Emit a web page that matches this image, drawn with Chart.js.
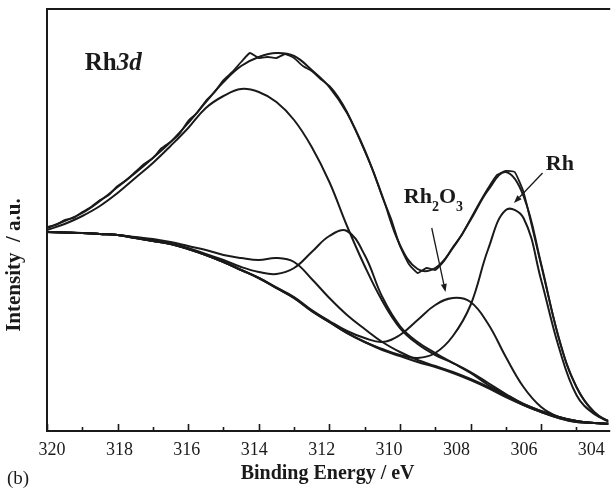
<!DOCTYPE html>
<html>
<head>
<meta charset="utf-8">
<script src="https://cdn.jsdelivr.net/npm/chart.js"></script>
<style>
  html, body { margin: 0; padding: 0; background: #fff; }
  canvas { display: block; }
</style>
</head>
<body>
<canvas id="xps" width="613" height="489"></canvas>
<script>
// Rh 3d XPS region: binding energy (eV) vs intensity (a.u.)
const energyGrid = [320, 319.5, 319, 318.5, 318, 317.5, 317, 316.5, 316, 315.5, 315, 314.5, 314, 313.5, 313, 312.5, 312, 311.5, 311, 310.5, 310, 309.5, 309, 308.5, 308, 307.5, 307, 306.5, 306, 305.5, 305, 304.5, 304];

const energyFine = [320, 319.75, 319.5, 319.25, 319, 318.75, 318.5, 318.25, 318, 317.75, 317.5, 317.25, 317, 316.75, 316.5, 316.25, 316, 315.75, 315.5, 315.25, 315, 314.75, 314.5, 314.25, 314, 313.75, 313.5, 313.25, 313, 312.75, 312.5, 312.25, 312, 311.75, 311.5, 311.25, 311, 310.75, 310.5, 310.25, 310, 309.75, 309.5, 309.25, 309, 308.75, 308.5, 308.25, 308, 307.75, 307.5, 307.25, 307, 306.75, 306.5, 306.25, 306, 305.75, 305.5, 305.25, 305, 304.75, 304.5, 304.25, 304];

// raw spectrum
const measured = [204, 206, 211, 213, 219, 224, 231, 236, 245, 251, 259, 267, 273, 283, 289, 297, 310, 318, 330, 339, 351, 359, 369, 378, 373, 374, 373, 377, 373, 365, 360, 352, 345, 334, 319, 300, 280, 259, 234, 212, 185, 167, 158, 163, 161, 170, 184, 196, 212, 228, 243, 256, 260, 259, 239, 203, 166, 128, 93, 64, 44, 29, 19, 12, 8];

// fitted envelope
const envelope = [203, 210, 218, 230, 244, 258, 273, 289, 308, 329, 349, 365, 374, 378, 375, 361, 344, 318, 281, 235, 186, 162, 163, 183, 211, 241, 259, 235, 167, 93, 44, 19, 8];

// Shirley background
const background = [199, 198.5, 198, 197, 196, 193, 190, 187, 182, 176, 169, 161, 153, 143, 133, 120, 109, 98, 89, 81, 75, 69, 64, 58, 51, 43, 34, 26, 19, 13, 9, 8, 7];

// fitted components (each drawn on top of the background)
const broadPeak = [201, 207, 215, 225, 238, 253, 268, 285, 303, 323, 335, 342, 339, 329, 311, 284, 249, 205, 165, 130, 103, 87, 76, 68, 59, 48, 37, 27, 20, 14, 10, 8, 7];
const rhMetal3d32 = [199, 198.5, 198, 197, 196, 193.5, 191, 187.5, 183, 177, 171, 164, 159, 157, 163, 179, 195, 200, 176, 134, 105, 89, 78, 68, 58, 46, 36, 27, 20, 14, 10, 8, 7];
const rhOxide3d32 = [199, 198.5, 198, 197, 196, 194, 192, 189, 185, 181, 176, 173, 171, 173, 169, 152, 133, 116, 102, 89, 79, 71, 65, 59, 52, 44, 35, 26, 19, 13, 9, 8, 7];
const rhOxide3d52 = [199, 198.5, 198, 197, 196, 193, 190, 187, 182, 176, 169, 161, 153, 143.5, 134, 121, 110, 100, 93, 89, 96, 111, 126, 133, 129, 107, 74, 44, 24, 14, 10, 8, 7];
const rhMetal3d52 = [199, 198.5, 198, 197, 196, 193, 190, 187, 182, 176, 169, 161, 153, 143, 133, 120, 109, 98, 89, 82, 76, 73, 78, 95, 126, 182, 221, 213, 151, 84, 36, 17, 9];

const tickLabels = [320, 318, 316, 314, 312, 310, 308, 306, 304];

const INK = '#1a1a1a';
const SERIF = '"Liberation Serif", "Times New Roman", serif';

function pairs(xs, ys) { return xs.map((x, i) => ({ x: x, y: ys[i] })); }
function curve(label, xs, ys, width, tension) {
  return { label, data: pairs(xs, ys), borderColor: INK, borderWidth: width,
           pointRadius: 0, fill: false, tension: tension };
}

// Frame, inward tick marks, axis title and peak annotations
const decorations = {
  id: 'decorations',
  afterDraw(chart) {
    const { ctx, chartArea: a, scales } = chart;
    const xs = scales.x, ys = scales.y;
    ctx.save();
    ctx.strokeStyle = INK;
    ctx.fillStyle = INK;
    ctx.lineWidth = 2;
    ctx.beginPath();
    ctx.moveTo(a.left, a.top); ctx.lineTo(a.right + 2, a.top);
    ctx.moveTo(a.left, a.top - 1); ctx.lineTo(a.left, a.bottom + 1);
    ctx.moveTo(a.left - 1, a.bottom); ctx.lineTo(a.right + 2, a.bottom);
    ctx.stroke();

    ctx.lineWidth = 1.6;
    ctx.beginPath();
    xs.ticks.forEach(t => {
      const px = Math.round(xs.getPixelForValue(t.value)) + 0.5;
      const len = (Math.round(t.value) % 2 === 0) ? 7 : 4;
      ctx.moveTo(px, a.bottom);
      ctx.lineTo(px, a.bottom - len);
    });
    ctx.stroke();

    // y-axis title
    ctx.save();
    ctx.translate(15, 265);
    ctx.rotate(-Math.PI / 2);
    ctx.font = 'bold 21px ' + SERIF;
    ctx.textAlign = 'center';
    ctx.textBaseline = 'middle';
    ctx.fillText('Intensity  / a.u.', 0, 0);
    ctx.restore();

    // panel tag
    ctx.font = '19px ' + SERIF;
    ctx.textAlign = 'left';
    ctx.textBaseline = 'middle';
    ctx.fillText('(b)', 7, 479);

    ctx.textBaseline = 'alphabetic';
    // Rh3d
    let x0 = xs.getPixelForValue(318.93), y0 = ys.getPixelForValue(361);
    ctx.font = 'bold 25px ' + SERIF;
    ctx.fillText('Rh', x0, y0);
    let w = ctx.measureText('Rh').width;
    ctx.font = 'italic bold 25px ' + SERIF;
    ctx.fillText('3d', x0 + w, y0);

    // Rh2O3 with subscripts
    x0 = xs.getPixelForValue(309.89); y0 = ys.getPixelForValue(228);
    const parts = [['Rh', 0], ['2', 1], ['O', 0], ['3', 1]];
    parts.forEach(([s, sub]) => {
      ctx.font = sub ? 'bold 14px ' + SERIF : 'bold 22px ' + SERIF;
      ctx.fillText(s, x0, y0 + (sub ? 8 : 0));
      x0 += ctx.measureText(s).width;
    });

    // Rh
    ctx.font = 'bold 22px ' + SERIF;
    ctx.fillText('Rh', xs.getPixelForValue(305.87), ys.getPixelForValue(261));

    // arrows
    function arrow(e0, v0, e1, v1) {
      const x1 = xs.getPixelForValue(e0), y1 = ys.getPixelForValue(v0);
      const x2 = xs.getPixelForValue(e1), y2 = ys.getPixelForValue(v1);
      const ang = Math.atan2(y2 - y1, x2 - x1);
      const hl = 8, hw = 3;
      ctx.lineWidth = 1.3;
      ctx.beginPath();
      ctx.moveTo(x1, y1);
      ctx.lineTo(x2 - hl * Math.cos(ang), y2 - hl * Math.sin(ang));
      ctx.stroke();
      ctx.beginPath();
      ctx.moveTo(x2, y2);
      ctx.lineTo(x2 - hl * Math.cos(ang) + hw * Math.sin(ang), y2 - hl * Math.sin(ang) - hw * Math.cos(ang));
      ctx.lineTo(x2 - hl * Math.cos(ang) - hw * Math.sin(ang), y2 - hl * Math.sin(ang) + hw * Math.cos(ang));
      ctx.closePath();
      ctx.fill();
    }
    arrow(309.10, 203, 308.71, 139);
    arrow(305.96, 258, 306.77, 228);
    ctx.restore();
  }
};

new Chart(document.getElementById('xps'), {
  type: 'line',
  data: {
    datasets: [
      curve('Background', energyGrid, background, 2.2, 0.4),
      curve('Broad component', energyGrid, broadPeak, 2.0, 0.4),
      curve('Rh 3d3/2', energyGrid, rhMetal3d32, 2.0, 0.4),
      curve('Rh2O3 3d3/2', energyGrid, rhOxide3d32, 2.0, 0.4),
      curve('Rh2O3 3d5/2', energyGrid, rhOxide3d52, 2.0, 0.4),
      curve('Rh 3d5/2', energyGrid, rhMetal3d52, 2.0, 0.4),
      curve('Envelope', energyGrid, envelope, 2.0, 0.4),
      curve('Measured', energyFine, measured, 1.8, 0.15)
    ]
  },
  options: {
    responsive: false,
    animation: false,
    devicePixelRatio: 1,
    layout: { padding: { left: 47, top: 9, right: 0, bottom: 0 } },
    plugins: { legend: { display: false }, tooltip: { enabled: false } },
    scales: {
      x: {
        type: 'linear', reverse: true, min: 304.1, max: 320, display: false,
        ticks: { stepSize: 1, includeBounds: false }
      },
      xl: {
        type: 'linear', position: 'bottom', reverse: true, min: 303.5, max: 320.147,
        afterBuildTicks: (s) => { s.ticks = tickLabels.map(v => ({ value: v })); },
        afterFit: (s) => { s.height = 58; },
        grid: { display: false, drawTicks: false },
        border: { display: false },
        ticks: {
          padding: 8, color: INK, maxRotation: 0, autoSkip: false,
          font: { family: SERIF, size: 18 },
          callback: (v) => String(v)
        },
        title: {
          display: true, text: 'Binding Energy / eV', color: INK,
          font: { family: SERIF, size: 20, weight: 'bold' },
          padding: { top: 0, bottom: 3 }
        }
      },
      y: { type: 'linear', min: 0, max: 422, display: false }
    }
  },
  plugins: [decorations]
});
</script>
</body>
</html>
